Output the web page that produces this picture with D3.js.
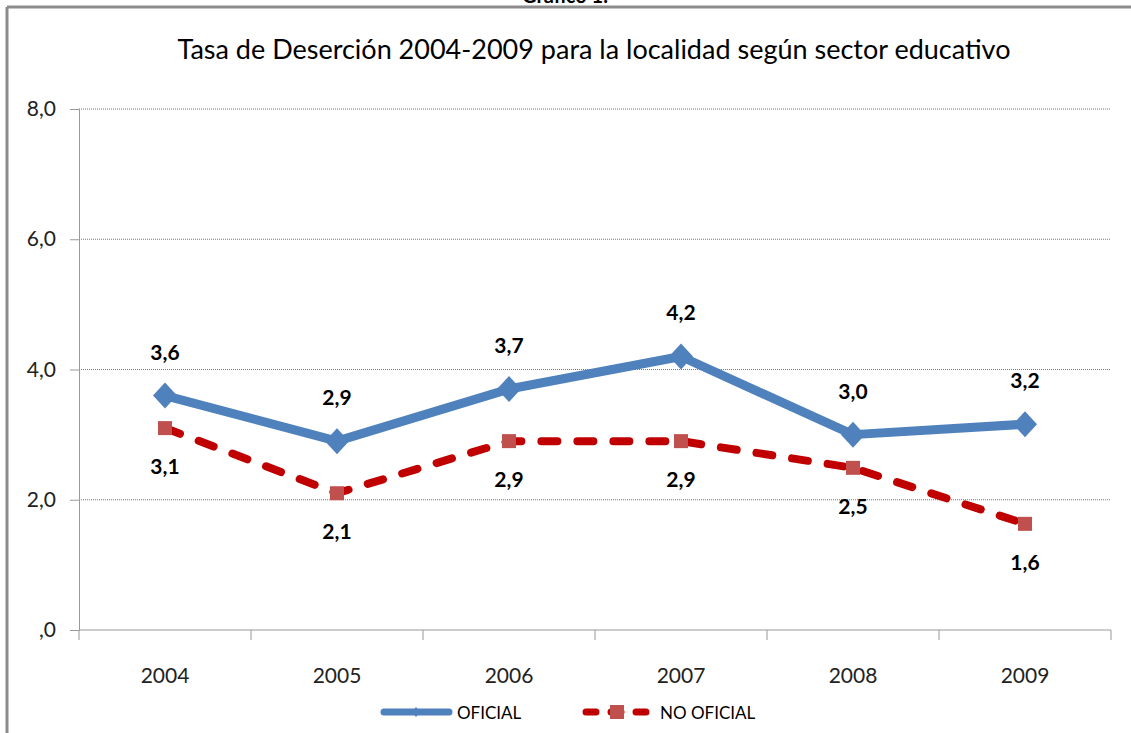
<html>
<head><meta charset="utf-8"/></head>
<script src='https://d3js.org/d3.v7.min.js'></script>
<style>
	body {margin: 0; background: white;}
	text {font-family: Lato, 'Open Sans', sans-serif;}
</style>
<body>
<svg width=1131 height=733></svg>
<script>

var years = [2004, 2005, 2006, 2007, 2008, 2009];
var oficial = [3.6, 2.9, 3.7, 4.2, 3.0, 3.16];
var noOficial = [3.1, 2.1, 2.9, 2.9, 2.49, 1.63];
var yTicks = [0, 2, 4, 6, 8];

var svg = d3.select("svg");
var plotLeft = 79, plotRight = 1111, plotTop = 109, plotBottom = 630;

var x = d3.scaleBand().domain(years).range([plotLeft, plotRight]);
var y = d3.scaleLinear().domain([0, 8]).range([plotBottom, plotTop]);
var fmt = function(d) {
	var s = d3.format(".1f")(d).replace(".", ",");
	return s == "0,0" ? ",0" : s;
};

// outer frame
svg.append("line").attr("x1", 7).attr("x2", 1131).attr("y1", 7).attr("y2", 7)
	.attr("stroke", "#8c8c8c").attr("stroke-width", 3);
svg.append("line").attr("x1", 7).attr("x2", 7).attr("y1", 7).attr("y2", 733)
	.attr("stroke", "#8c8c8c").attr("stroke-width", 3);

svg.append("text").attr("x", 565).attr("y", 3).attr("text-anchor", "middle")
	.attr("font-size", 20).attr("font-weight", "bold").text("Gráfico 1.");

svg.append("text").attr("x", 594).attr("y", 59).attr("text-anchor", "middle")
	.attr("font-size", 27).attr("fill", "#000").text("Tasa de Deserción 2004-2009 para la localidad según sector educativo");

// grid
svg.append("g").selectAll("line").data(yTicks.filter(d => d > 0)).enter().append("line")
	.attr("x1", plotLeft).attr("x2", plotRight).attr("y1", d => y(d)).attr("y2", d => y(d))
	.attr("stroke", "#777").attr("stroke-dasharray", "1,1");

var yAxis = svg.append("g").attr("transform", "translate(" + plotLeft + ",0)")
	.call(d3.axisLeft(y).tickValues(yTicks).tickFormat(fmt).tickSize(9).tickPadding(14));
yAxis.selectAll("text").attr("font-size", 21).attr("fill", "#222").attr("font-family", "Lato");
yAxis.selectAll("line, path").attr("stroke", "#999");

var xAxis = svg.append("g").attr("transform", "translate(0," + plotBottom + ")")
	.call(d3.axisBottom(x).tickSize(0).tickPadding(38));
xAxis.selectAll("text").attr("font-size", 21).attr("fill", "#222").attr("font-family", "Lato");
xAxis.select("path").attr("stroke", "#999").attr("d", "M" + plotLeft + ",0H" + plotRight);
xAxis.append("g").selectAll("line").data(years.concat(["end"])).enter().append("line")
	.attr("x1", (d, i) => plotLeft + i * x.step()).attr("x2", (d, i) => plotLeft + i * x.step())
	.attr("y1", 0).attr("y2", 10).attr("stroke", "#999");

var cx = function(d, i) { return x(years[i]) + x.bandwidth() / 2; };

var line = d3.line().x(cx).y(d => y(d));

svg.append("path").datum(oficial).attr("d", line).attr("fill", "none")
	.attr("stroke", "#4f81bd").attr("stroke-width", 9).attr("stroke-linejoin", "round");
svg.append("path").datum(noOficial).attr("d", line).attr("fill", "none")
	.attr("stroke", "#c00000").attr("stroke-width", 8).attr("stroke-linecap", "round")
	.attr("stroke-dasharray", "16,20");

svg.append("g").selectAll("path").data(oficial).enter().append("path")
	.attr("d", "M0,-13L12,0L0,13L-12,0Z")
	.attr("transform", (d, i) => "translate(" + cx(d, i) + "," + y(d) + ")")
	.attr("fill", "#4f81bd");
svg.append("g").selectAll("rect").data(noOficial).enter().append("rect")
	.attr("x", (d, i) => cx(d, i) - 7).attr("y", d => y(d) - 7)
	.attr("width", 14).attr("height", 14).attr("fill", "#c0504d");

svg.append("g").selectAll("text").data(oficial).enter().append("text")
	.attr("x", cx).attr("y", d => y(d) - 36).attr("text-anchor", "middle")
	.attr("font-size", 21).attr("font-weight", "bold").text(fmt);
svg.append("g").selectAll("text").data(noOficial).enter().append("text")
	.attr("x", cx).attr("y", d => y(d) + 46).attr("text-anchor", "middle")
	.attr("font-size", 21).attr("font-weight", "bold").text(fmt);

// legend
var lg = svg.append("g").attr("transform", "translate(0,712)");
lg.append("line").attr("x1", 384).attr("x2", 449).attr("stroke", "#4f81bd")
	.attr("stroke-width", 7).attr("stroke-linecap", "round");
lg.append("path").attr("d", "M416,-5L420,0L416,5L412,0Z").attr("fill", "#4f81bd");
lg.append("text").attr("x", 457).attr("y", 7).attr("font-size", 17).text("OFICIAL");
lg.append("line").attr("x1", 586).attr("x2", 648).attr("stroke", "#c00000")
	.attr("stroke-width", 7).attr("stroke-linecap", "round").attr("stroke-dasharray", "10,15");
lg.append("rect").attr("x", 610).attr("y", -7).attr("width", 14).attr("height", 14).attr("fill", "#c0504d");
lg.append("text").attr("x", 660).attr("y", 7).attr("font-size", 17).text("NO OFICIAL");

</script>
</body>
</html>
